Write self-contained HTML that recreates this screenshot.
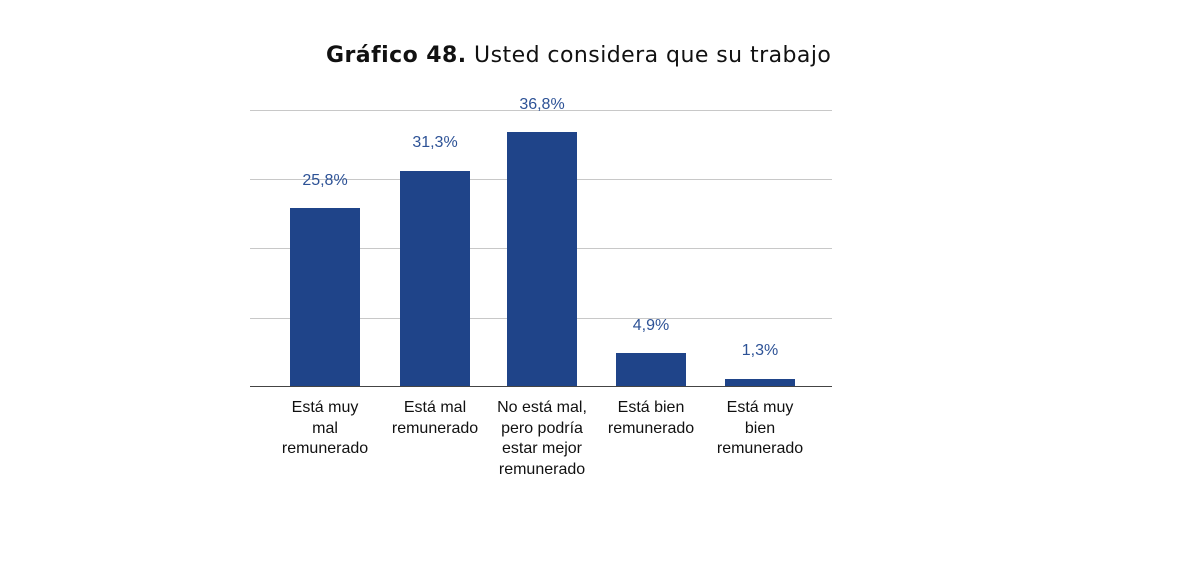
<!DOCTYPE html>
<html><head><meta charset="utf-8"><style>
body{margin:0;background:#fff;width:1200px;height:563px;overflow:hidden;position:relative;font-family:"Liberation Sans",sans-serif}
.t{position:absolute;top:43px;left:326px;font-family:"DejaVu Sans",sans-serif;font-size:22px;color:#111;white-space:nowrap;letter-spacing:0.45px}
.g{position:absolute;left:250px;width:582px;height:1px;background:#c8c8c8}
.b{position:absolute;width:70px;background:#1f4489}
.v{position:absolute;width:120px;text-align:center;font-size:16px;color:#2d5296}
.c{position:absolute;width:130px;text-align:center;font-size:16px;line-height:20.5px;color:#111;top:398px}
</style></head><body>
<div class="t"><b>Gráfico 48.</b> Usted considera que su trabajo</div>
<div class="g" style="top:110px"></div>
<div class="g" style="top:179px"></div>
<div class="g" style="top:248px"></div>
<div class="g" style="top:318px"></div>
<div class="g" style="top:386px;background:#444"></div>
<div class="b" style="left:290px;top:208px;height:178px"></div>
<div class="b" style="left:400px;top:171px;height:215px"></div>
<div class="b" style="left:507px;top:132px;height:254px"></div>
<div class="b" style="left:616px;top:353px;height:33px"></div>
<div class="b" style="left:725px;top:379px;height:7px"></div>
<div class="v" style="left:265px;top:172px">25,8%</div>
<div class="v" style="left:375px;top:134px">31,3%</div>
<div class="v" style="left:482px;top:96px">36,8%</div>
<div class="v" style="left:591px;top:317px">4,9%</div>
<div class="v" style="left:700px;top:342px">1,3%</div>
<div class="c" style="left:260px">Está muy<br>mal<br>remunerado</div>
<div class="c" style="left:370px">Está mal<br>remunerado</div>
<div class="c" style="left:477px">No está mal,<br>pero podría<br>estar mejor<br>remunerado</div>
<div class="c" style="left:586px">Está bien<br>remunerado</div>
<div class="c" style="left:695px">Está muy<br>bien<br>remunerado</div>
</body></html>
